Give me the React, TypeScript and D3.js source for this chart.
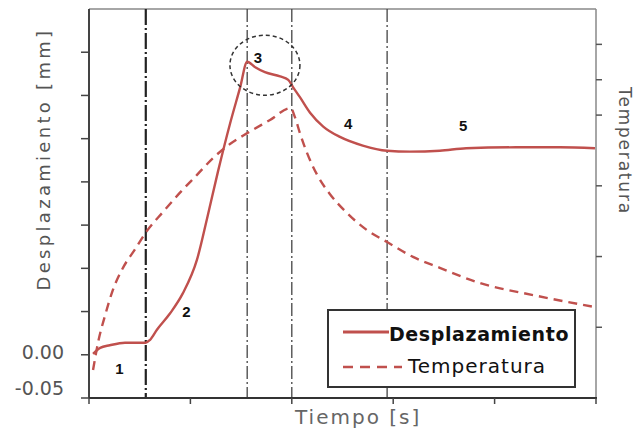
import React from "react";
import * as d3 from "d3";

const dispTime = [0.08, 0.22, 0.41, 0.71, 1.12, 1.2, 1.34, 1.6, 1.85, 2.13, 2.33, 2.54, 2.78, 2.98, 3.12, 3.27, 3.47, 3.77, 3.93, 4.02, 4.16, 4.36, 4.62, 4.95, 5.4, 5.88, 6.33, 6.92, 7.44, 8.42, 9.29, 9.98];
const dispValue = [0.001, 0.008, 0.011, 0.014, 0.014, 0.017, 0.029, 0.048, 0.071, 0.11, 0.158, 0.211, 0.267, 0.309, 0.339, 0.333, 0.327, 0.322, 0.318, 0.31, 0.298, 0.28, 0.264, 0.252, 0.242, 0.236, 0.235, 0.236, 0.239, 0.24, 0.24, 0.239];

const tempTime = [0.08, 0.18, 0.32, 0.47, 0.67, 0.91, 1.14, 1.46, 1.79, 2.13, 2.45, 2.78, 3.12, 3.57, 3.98, 4.06, 4.16, 4.3, 4.5, 4.75, 5.09, 5.48, 5.88, 6.39, 6.92, 7.71, 8.76, 9.98];
const tempValue = [0.79, 1.58, 2.35, 3.05, 3.68, 4.21, 4.72, 5.26, 5.8, 6.31, 6.79, 7.18, 7.49, 7.86, 8.2, 7.95, 7.49, 6.93, 6.31, 5.77, 5.23, 4.75, 4.41, 3.99, 3.68, 3.25, 2.91, 2.57];

const leftTicks = [-0.05, 0, 0.05, 0.1, 0.15, 0.2, 0.25, 0.3, 0.35];
const leftTickLabels = ["-0.05", "0.00"];
const rightTicks = [2, 4, 6, 8, 9, 10];
const bottomTicks = [0, 2, 4, 6, 8, 10];
const phaseLines = [1.12, 3.12, 4.0, 5.88];
const phaseLabels = ["1", "2", "3", "4", "5"];
const phaseLabelTime = [0.6, 1.92, 3.33, 5.11, 7.38];
const phaseLabelValue = [-0.016, 0.05, 0.344, 0.268, 0.265];
const peakCircle = [3.47, 0.335];

const W = 636, H = 434;
const L = 89, R = 596, T = 9, B = 398;
const RED = "#c0504d";

export default function App() {
  const x = d3.scaleLinear().domain([0, 10]).range([L, R]);
  const y = d3.scaleLinear().domain([-0.05, 0.4]).range([B, T]);
  const y2 = d3.scaleLinear().domain([0, 11]).range([B, T]);

  const dispLine = d3.line<number>().x((_, i) => x(dispTime[i])).y((v) => y(v)).curve(d3.curveMonotoneX);
  const tempLine = d3.line<number>().x((_, i) => x(tempTime[i])).y((v) => y2(v)).curve(d3.curveMonotoneX);

  const font = "'DejaVu Sans', sans-serif";

  return (
    <svg width={W} height={H} style={{ position: "absolute", left: 0, top: 0, background: "#fff" }}>
      <rect x={0} y={0} width={W} height={H} fill="#fff" />
      {/* frame */}
      <line x1={L} x2={R} y1={T} y2={T} stroke="#888" strokeWidth={1.5} />
      <line x1={R} x2={R} y1={T} y2={B} stroke="#888" strokeWidth={1.5} />
      {/* phase lines */}
      {phaseLines.map((t, i) => (
        <line key={i} x1={x(t)} x2={x(t)} y1={T} y2={B}
          stroke={i === 0 ? "#222" : "#444"} strokeWidth={i === 0 ? 2.2 : 1.3}
          strokeDasharray={i === 0 ? "16,3,2,3" : "13,3,2,3"} />
      ))}
      {/* curves */}
      <path d={tempLine(tempValue) || ""} fill="none" stroke={RED} strokeWidth={2.4} strokeDasharray="9,6" />
      <path d={dispLine(dispValue) || ""} fill="none" stroke={RED} strokeWidth={2.4} />
      {/* circle */}
      <ellipse cx={x(peakCircle[0])} cy={y(peakCircle[1])} rx={35} ry={30} fill="none" stroke="#333" strokeWidth={1.5} strokeDasharray="4,3" />
      {/* phase labels */}
      {phaseLabels.map((s, i) => (
        <text key={s} x={x(phaseLabelTime[i])} y={y(phaseLabelValue[i])} fontFamily="'Liberation Sans', Arial, sans-serif"
          fontWeight="bold" fontSize={15} textAnchor="middle" dominantBaseline="central" fill="#111">{s}</text>
      ))}
      {/* left axis */}
      <line x1={L} x2={L} y1={T} y2={B} stroke="#444" strokeWidth={2} />
      {leftTicks.map((v) => (
        <line key={v} x1={L - 8} x2={L} y1={y(v)} y2={y(v)} stroke="#444" strokeWidth={1.5} />
      ))}
      {leftTickLabels.map((s, i) => (
        <text key={s} x={64} y={y(+s) - (i === 0 ? 10 : 3)} fontFamily={font} fontSize={19} fill="#555"
          textAnchor="end" dominantBaseline="central">{s}</text>
      ))}
      {/* right axis ticks */}
      {rightTicks.map((v) => (
        <line key={v} x1={R} x2={R + 6} y1={y2(v)} y2={y2(v)} stroke="#555" strokeWidth={1.5} />
      ))}
      {/* bottom axis */}
      <line x1={L} x2={R + 1} y1={B} y2={B} stroke="#333" strokeWidth={2.2} />
      {bottomTicks.map((v) => (
        <line key={v} x1={x(v)} x2={x(v)} y1={B} y2={B + 6} stroke="#444" strokeWidth={1.5} />
      ))}
      {/* axis titles */}
      <text transform="translate(50,159) rotate(-90)" fontFamily={font} fontSize={18} letterSpacing={3.3}
        fill="#555" textAnchor="middle">Desplazamiento [mm]</text>
      <text transform="translate(619,151) rotate(90)" fontFamily={font} fontSize={17} letterSpacing={1.8}
        fill="#555" textAnchor="middle">Temperatura</text>
      <text x={295} y={424} fontFamily={font} fontSize={20} letterSpacing={2} fill="#666">Tiempo [s]</text>
      {/* legend */}
      <rect x={328} y={310} width={247} height={77} fill="#fff" stroke="#333" strokeWidth={2} />
      <line x1={343} x2={389} y1={332} y2={332} stroke={RED} strokeWidth={3} />
      <text x={389} y={341} fontFamily={font} fontWeight="bold" fontSize={19} letterSpacing={0.6} fill="#111">Desplazamiento</text>
      <line x1={343} x2={402} y1={367} y2={367} stroke={RED} strokeWidth={2.4} strokeDasharray="10,7" />
      <text x={408} y={373} fontFamily={font} fontSize={20} letterSpacing={1} fill="#111">Temperatura</text>
    </svg>
  );
}
